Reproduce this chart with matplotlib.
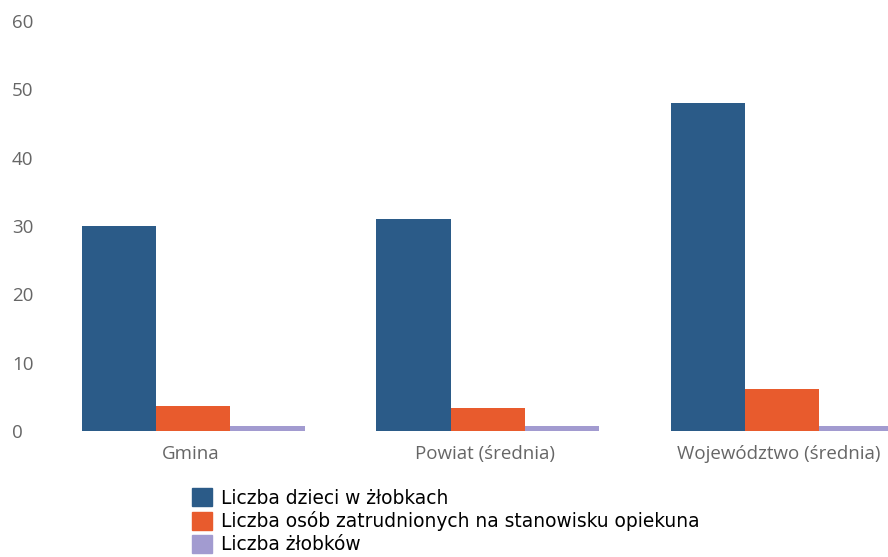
import matplotlib.pyplot as plt
import numpy as np
from matplotlib.patches import Patch

# data
categories = ['Gmina', 'Powiat (średnia)', 'Województwo (średnia)']
dzieci = [30, 31, 48]
opiekunowie = [3.7, 3.4, 6.1]
zlobki = [0.8, 0.7, 0.7]

series_labels = ['Liczba dzieci w żłobkach',
                 'Liczba osób zatrudnionych na stanowisku opiekuna',
                 'Liczba żłobków']
colors = ['#2b5b88', '#e85b2d', '#a29bd0']

fig = plt.figure(figsize=(8.88, 5.57), dpi=100)
ax = fig.add_axes([0.09, 0.226, 0.91, 0.736])

x = np.arange(len(categories))
w = 0.252
for i, vals in enumerate([dzieci, opiekunowie, zlobki]):
    ax.bar(x + (i - 1) * w, vals, w, color=colors[i], linewidth=0)

ax.set_ylim(0, 60)
ax.set_xlim(-0.385, 2.36)
ax.set_yticks(range(0, 61, 10))
ax.set_xticks(x - 0.01)
ax.set_xticklabels(categories)
for s in ax.spines.values():
    s.set_visible(False)
ax.tick_params(length=0, labelsize=13.5, labelcolor='#666666', pad=10)
ax.tick_params(axis='y', pad=49)
for t in ax.get_yticklabels():
    t.set_horizontalalignment('left')
for t in ax.get_xticklabels() + ax.get_yticklabels():
    t.set_family('Open Sans')

handles = [Patch(color=c) for c in colors]
fig.legend(handles, series_labels, loc='upper left',
           bbox_to_anchor=(0.206, 0.140), bbox_transform=fig.transFigure,
           frameon=False, handlelength=1.05, handleheight=1.1,
           handletextpad=0.5, labelspacing=0.2, borderpad=0,
           prop={'family': 'DejaVu Sans', 'size': 13.4})

plt.savefig('out.png', dpi=100)
